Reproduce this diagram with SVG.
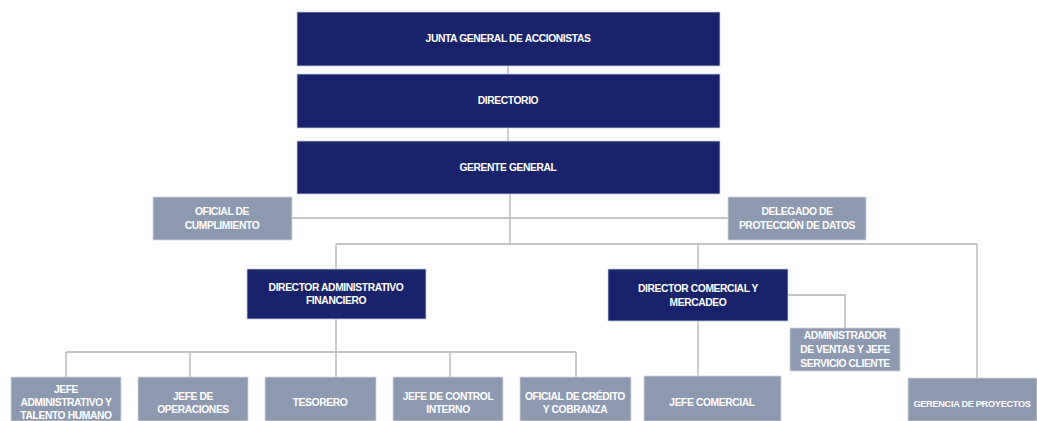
<svg xmlns="http://www.w3.org/2000/svg" width="1037" height="421" viewBox="0 0 1037 421">
<style>
.dk{fill:#18236b;stroke:#c9cde0;stroke-width:0.8}
.lt{fill:#8d99b0;stroke:#d3d7e0;stroke-width:0.8}
.t{font-family:"Liberation Sans",Arial,sans-serif;font-size:10.3px;font-weight:bold;letter-spacing:-0.4px;fill:#ffffff;text-anchor:middle;dominant-baseline:central}
.s{font-size:9.2px;letter-spacing:-0.3px}
.c{fill:none;stroke:#b3b3b3;stroke-width:1.3}
</style>
<rect width="1037" height="421" fill="#ffffff"/>
<g id="connectors">
<path class="c" d="M508 66V74M508 128V141M510 194V244M292 218H728M336 244H977M336 244V269M698 244V269M977 244V378M788 295H845V328M698 321V376M336 319V352M66 352H576M66 352V377M190 352V377M336 352V377M450 352V377M576 352V377"/>
</g>
<g id="junta"><rect class="dk" x="297" y="12" width="423" height="54"/><text class="t" x="508" y="38.5">JUNTA GENERAL DE ACCIONISTAS</text></g>
<g id="directorio"><rect class="dk" x="297" y="74" width="423" height="54"/><text class="t" x="508" y="100.5">DIRECTORIO</text></g>
<g id="gerente"><rect class="dk" x="297" y="141" width="423" height="53"/><text class="t" x="508" y="167">GERENTE GENERAL</text></g>
<g id="oficial-cumplimiento"><rect class="lt" x="153" y="197" width="139" height="43"/><text class="t" x="222" y="211">OFICIAL DE</text><text class="t" x="222" y="225">CUMPLIMIENTO</text></g>
<g id="delegado"><rect class="lt" x="728" y="197" width="138" height="43"/><text class="t" x="797" y="211">DELEGADO DE</text><text class="t" x="797" y="225">PROTECCIÓN DE DATOS</text></g>
<g id="dir-adm"><rect class="dk" x="247" y="269" width="179" height="50"/><text class="t" x="336" y="287">DIRECTOR ADMINISTRATIVO</text><text class="t" x="336" y="300">FINANCIERO</text></g>
<g id="dir-com"><rect class="dk" x="608" y="269" width="180" height="52"/><text class="t" x="698" y="288">DIRECTOR COMERCIAL Y</text><text class="t" x="698" y="302">MERCADEO</text></g>
<g id="admin-ventas"><rect class="lt" x="790" y="328" width="110" height="43"/><text class="t" x="845" y="335">ADMINISTRADOR</text><text class="t" x="845" y="349">DE VENTAS Y JEFE</text><text class="t" x="845" y="363">SERVICIO CLIENTE</text></g>
<g id="gerencia-proyectos"><rect class="lt" x="908" y="378" width="129" height="43"/><text class="t s" x="972" y="404">GERENCIA DE PROYECTOS</text></g>
<g id="jefe-adm"><rect class="lt" x="11" y="377" width="110" height="44"/><text class="t" x="66" y="389">JEFE</text><text class="t" x="66" y="402.5">ADMINISTRATIVO Y</text><text class="t" x="66" y="415.5">TALENTO HUMANO</text></g>
<g id="jefe-op"><rect class="lt" x="138" y="377" width="110" height="44"/><text class="t" x="193" y="396">JEFE DE</text><text class="t" x="193" y="409.5">OPERACIONES</text></g>
<g id="tesorero"><rect class="lt" x="265" y="377" width="111" height="44"/><text class="t" x="320" y="402.5">TESORERO</text></g>
<g id="jefe-control"><rect class="lt" x="393" y="377" width="110" height="44"/><text class="t" x="448" y="396">JEFE DE CONTROL</text><text class="t" x="448" y="409.5">INTERNO</text></g>
<g id="oficial-credito"><rect class="lt" x="520" y="377" width="111" height="44"/><text class="t" x="575" y="396">OFICIAL DE CRÉDITO</text><text class="t" x="575" y="409.5">Y COBRANZA</text></g>
<g id="jefe-comercial"><rect class="lt" x="644" y="376" width="137" height="45"/><text class="t" x="712" y="402.5">JEFE COMERCIAL</text></g>
</svg>
